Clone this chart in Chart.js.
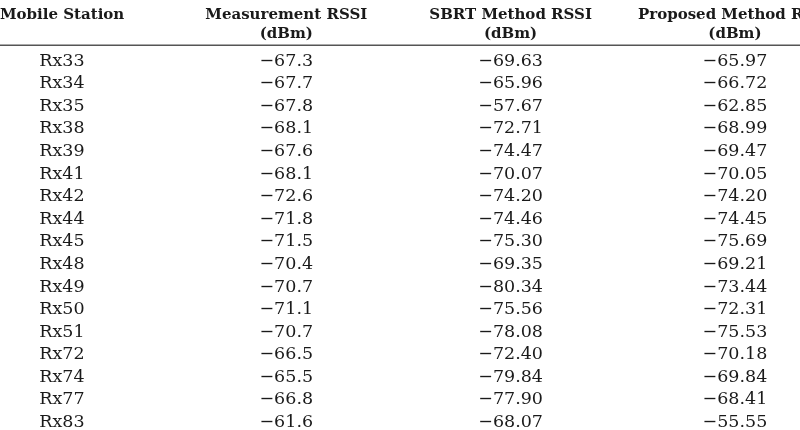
<!DOCTYPE html>
<html><head><meta charset="utf-8">
<script src="https://cdn.jsdelivr.net/npm/chart.js@4"></script>
<style>html,body{margin:0;padding:0;background:#fff}#w{width:800px;height:430px}</style>
</head><body><div id="w"><canvas id="c"></canvas></div>
<script>
const stations = ["Rx33","Rx34","Rx35","Rx38","Rx39","Rx41","Rx42","Rx44","Rx45","Rx48","Rx49","Rx50","Rx51","Rx72","Rx74","Rx77","Rx83"];
const measured = ["-67.3","-67.7","-67.8","-68.1","-67.6","-68.1","-72.6","-71.8","-71.5","-70.4","-70.7","-71.1","-70.7","-66.5","-65.5","-66.8","-61.6"];
const sbrt = ["-69.63","-65.96","-57.67","-72.71","-74.47","-70.07","-74.20","-74.46","-75.30","-69.35","-80.34","-75.56","-78.08","-72.40","-79.84","-77.90","-68.07"];
const proposed = ["-65.97","-66.72","-62.85","-68.99","-69.47","-70.05","-74.20","-74.45","-75.69","-69.21","-73.44","-72.31","-75.53","-70.18","-69.84","-68.41","-55.55"];
const headers = [["Mobile Station",""],["Measurement RSSI","(dBm)"],["SBRT Method RSSI","(dBm)"],["Proposed Method RSSI","(dBm)"]];
const columns = [stations, measured, sbrt, proposed];

const pts = [];
columns.forEach((col,i)=>col.forEach((v,r)=>pts.push({x:i,y:r,t:v.replace('-','\u2212')})));

const tablePlugin = {
  id:'table',
  afterDatasetsDraw(chart){
    const ctx = chart.ctx, xs = chart.scales.x, ys = chart.scales.y;
    ctx.save();
    ctx.fillStyle = '#1a1a1a';
    ctx.textBaseline = 'middle';
    ctx.font = '17.5px "DejaVu Serif", serif';
    ctx.textAlign = 'center';
    pts.forEach(p=>ctx.fillText(p.t, xs.getPixelForValue(p.x), ys.getPixelForValue(p.y)));
    ctx.font = 'bold 15px "DejaVu Serif", serif';
    headers.forEach((h,i)=>{
      const x = xs.getPixelForValue(i);
      if(i===0){ ctx.textAlign='left'; ctx.fillText(h[0], 0, ys.getPixelForValue(-2.05)); return; }
      ctx.textAlign='center';
      ctx.fillText(h[0], x, ys.getPixelForValue(-2.05));
      ctx.fillText(h[1], x, ys.getPixelForValue(-1.2));
    });
    ctx.strokeStyle = '#555'; ctx.lineWidth = 1.5;
    const ly = ys.getPixelForValue(-0.7);
    ctx.beginPath(); ctx.moveTo(0, ly); ctx.lineTo(800, ly); ctx.stroke();
    ctx.restore();
  }
};

new Chart(document.getElementById('c'), {
  type:'scatter',
  data:{datasets:[{data:pts, pointRadius:0, pointHoverRadius:0}]},
  options:{
    responsive:true, maintainAspectRatio:false, animation:false,
    layout:{padding:0},
    plugins:{legend:{display:false}, tooltip:{enabled:false}},
    scales:{
      x:{type:'linear', min:-0.276, max:3.29, display:false},
      y:{type:'linear', reverse:true, min:-2.7, max:16.33, display:false}
    }
  },
  plugins:[tablePlugin]
});
</script></body></html>
